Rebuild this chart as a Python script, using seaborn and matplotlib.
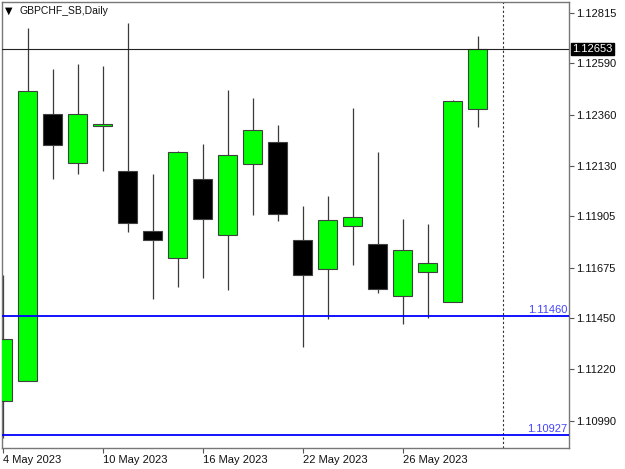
import matplotlib
matplotlib.use("Agg")
import matplotlib.pyplot as plt
import seaborn as sns
import numpy as np

# ---- data ----
dates = ['2023-05-04', '2023-05-05', '2023-05-08', '2023-05-09', '2023-05-10',
         '2023-05-11', '2023-05-12', '2023-05-15', '2023-05-16', '2023-05-17',
         '2023-05-18', '2023-05-19', '2023-05-22', '2023-05-23', '2023-05-24',
         '2023-05-25', '2023-05-26', '2023-05-29', '2023-05-30', '2023-05-31']
opens  = [1.11078, 1.11169, 1.12363, 1.12141, 1.12310, 1.12109, 1.11839, 1.11718, 1.12071, 1.11821,
          1.12138, 1.12237, 1.11799, 1.11668, 1.11863, 1.11781, 1.11550, 1.11654, 1.11521, 1.12386]
highs  = [1.11642, 1.12747, 1.12565, 1.12587, 1.12578, 1.12771, 1.12095, 1.12199, 1.12229, 1.12468,
          1.12436, 1.12311, 1.11950, 1.11996, 1.12390, 1.12192, 1.11892, 1.11871, 1.12427, 1.12713]
lows   = [1.10912, 1.11166, 1.12072, 1.12095, 1.12109, 1.11835, 1.11535, 1.11589, 1.11630, 1.11575,
          1.11910, 1.11883, 1.11321, 1.11444, 1.11688, 1.11563, 1.11422, 1.11448, 1.11521, 1.12306]
closes = [1.11356, 1.12466, 1.12225, 1.12363, 1.12318, 1.11875, 1.11800, 1.12193, 1.11892, 1.12177,
          1.12292, 1.11917, 1.11642, 1.11889, 1.11901, 1.11577, 1.11754, 1.11696, 1.12422, 1.12653]

tick_dates = ['2023-05-04', '2023-05-10', '2023-05-16', '2023-05-22', '2023-05-26']
tick_labels = ['4 May 2023', '10 May 2023', '16 May 2023', '22 May 2023', '26 May 2023']
price_ticks = [1.12815, 1.12590, 1.12360, 1.12130, 1.11905, 1.11675, 1.11450, 1.11220, 1.10990]
bid_price = 1.12653
levels = [1.11460, 1.10927]
title = 'GBPCHF_SB,Daily'

# ---- style ----
sns.set_style("white")
plt.rcParams['font.family'] = ['Liberation Sans', 'DejaVu Sans']

fig = plt.figure(figsize=(6.25, 4.69), dpi=100)
fig.patch.set_facecolor('white')
ax = fig.add_axes([2 / 625, 1 - 447.7 / 469, 567.3 / 625, 446 / 469])
ax.set_facecolor('white')

x = np.arange(len(dates))
o = np.array(opens); h = np.array(highs); l = np.array(lows); c = np.array(closes)
bull = c >= o

# wicks
ax.vlines(x, l, h, color='#3a3a3a', linewidth=0.9, zorder=2)
# bodies
bottoms = np.minimum(o, c)
heights = np.maximum(np.abs(c - o), 0.00002)
colors = ['#00ff00' if b else '#000000' for b in bull]
ax.bar(x, heights, bottom=bottoms, width=0.77, color=colors,
       edgecolor='#404040', linewidth=0.8, zorder=3)

# horizontal levels
for lv in levels:
    ax.axhline(lv, color='#0000ff', linewidth=1.3, zorder=4)
    ax.text(0.997, lv + 0.00004, f'{lv:.5f}', transform=ax.get_yaxis_transform(),
            ha='right', va='bottom', color='#4444ff', fontsize=8, zorder=5)

# bid line
ax.axhline(bid_price, color='#222222', linewidth=0.8, zorder=4)

# dotted separator at the next (future) bar slot
ax.axvline(len(dates), color='#333333', linewidth=0.8, linestyle=(0, (2, 2)), zorder=1)

ax.set_xlim(-0.02, 22.67)
ax.set_ylim(1.10869, 1.12865)

# x ticks
tpos = [dates.index(d) for d in tick_dates]
ax.set_xticks(tpos)
ax.set_xticklabels(tick_labels, fontsize=8, color='#111111')
for lab in ax.get_xticklabels():
    lab.set_horizontalalignment('left')
ax.tick_params(axis='x', direction='out', length=3.5, width=0.8, color='#555555', pad=2,
               bottom=True)

# y ticks on right
ax.yaxis.tick_right()
ax.set_yticks(price_ticks)
ax.set_yticklabels([f'{p:.5f}' for p in price_ticks], fontsize=8, color='#111111')
ax.tick_params(axis='y', direction='out', length=3.5, width=0.8, color='#555555', pad=1.5,
               right=True, left=False)

for s in ax.spines.values():
    s.set_color('#777777')
    s.set_linewidth(1.0)
ax.grid(False)

# bid price label box
ax.text(1.0 + 3 / 567.3, bid_price, f'{bid_price:.5f}', transform=ax.get_yaxis_transform(),
        ha='left', va='center', color='white', fontsize=8, zorder=6, clip_on=False,
        bbox=dict(boxstyle='square,pad=0.12', facecolor='black', edgecolor='black'))

# title
fig.text(5 / 625, 1 - 10.5 / 469, '\u25BC', fontsize=7, family='DejaVu Sans',
         ha='left', va='center', color='black')
fig.text(19 / 625, 1 - 11 / 469, title, fontsize=7.5, ha='left', va='center', color='#111111')

fig.savefig('out.png', dpi=100, facecolor='white')
